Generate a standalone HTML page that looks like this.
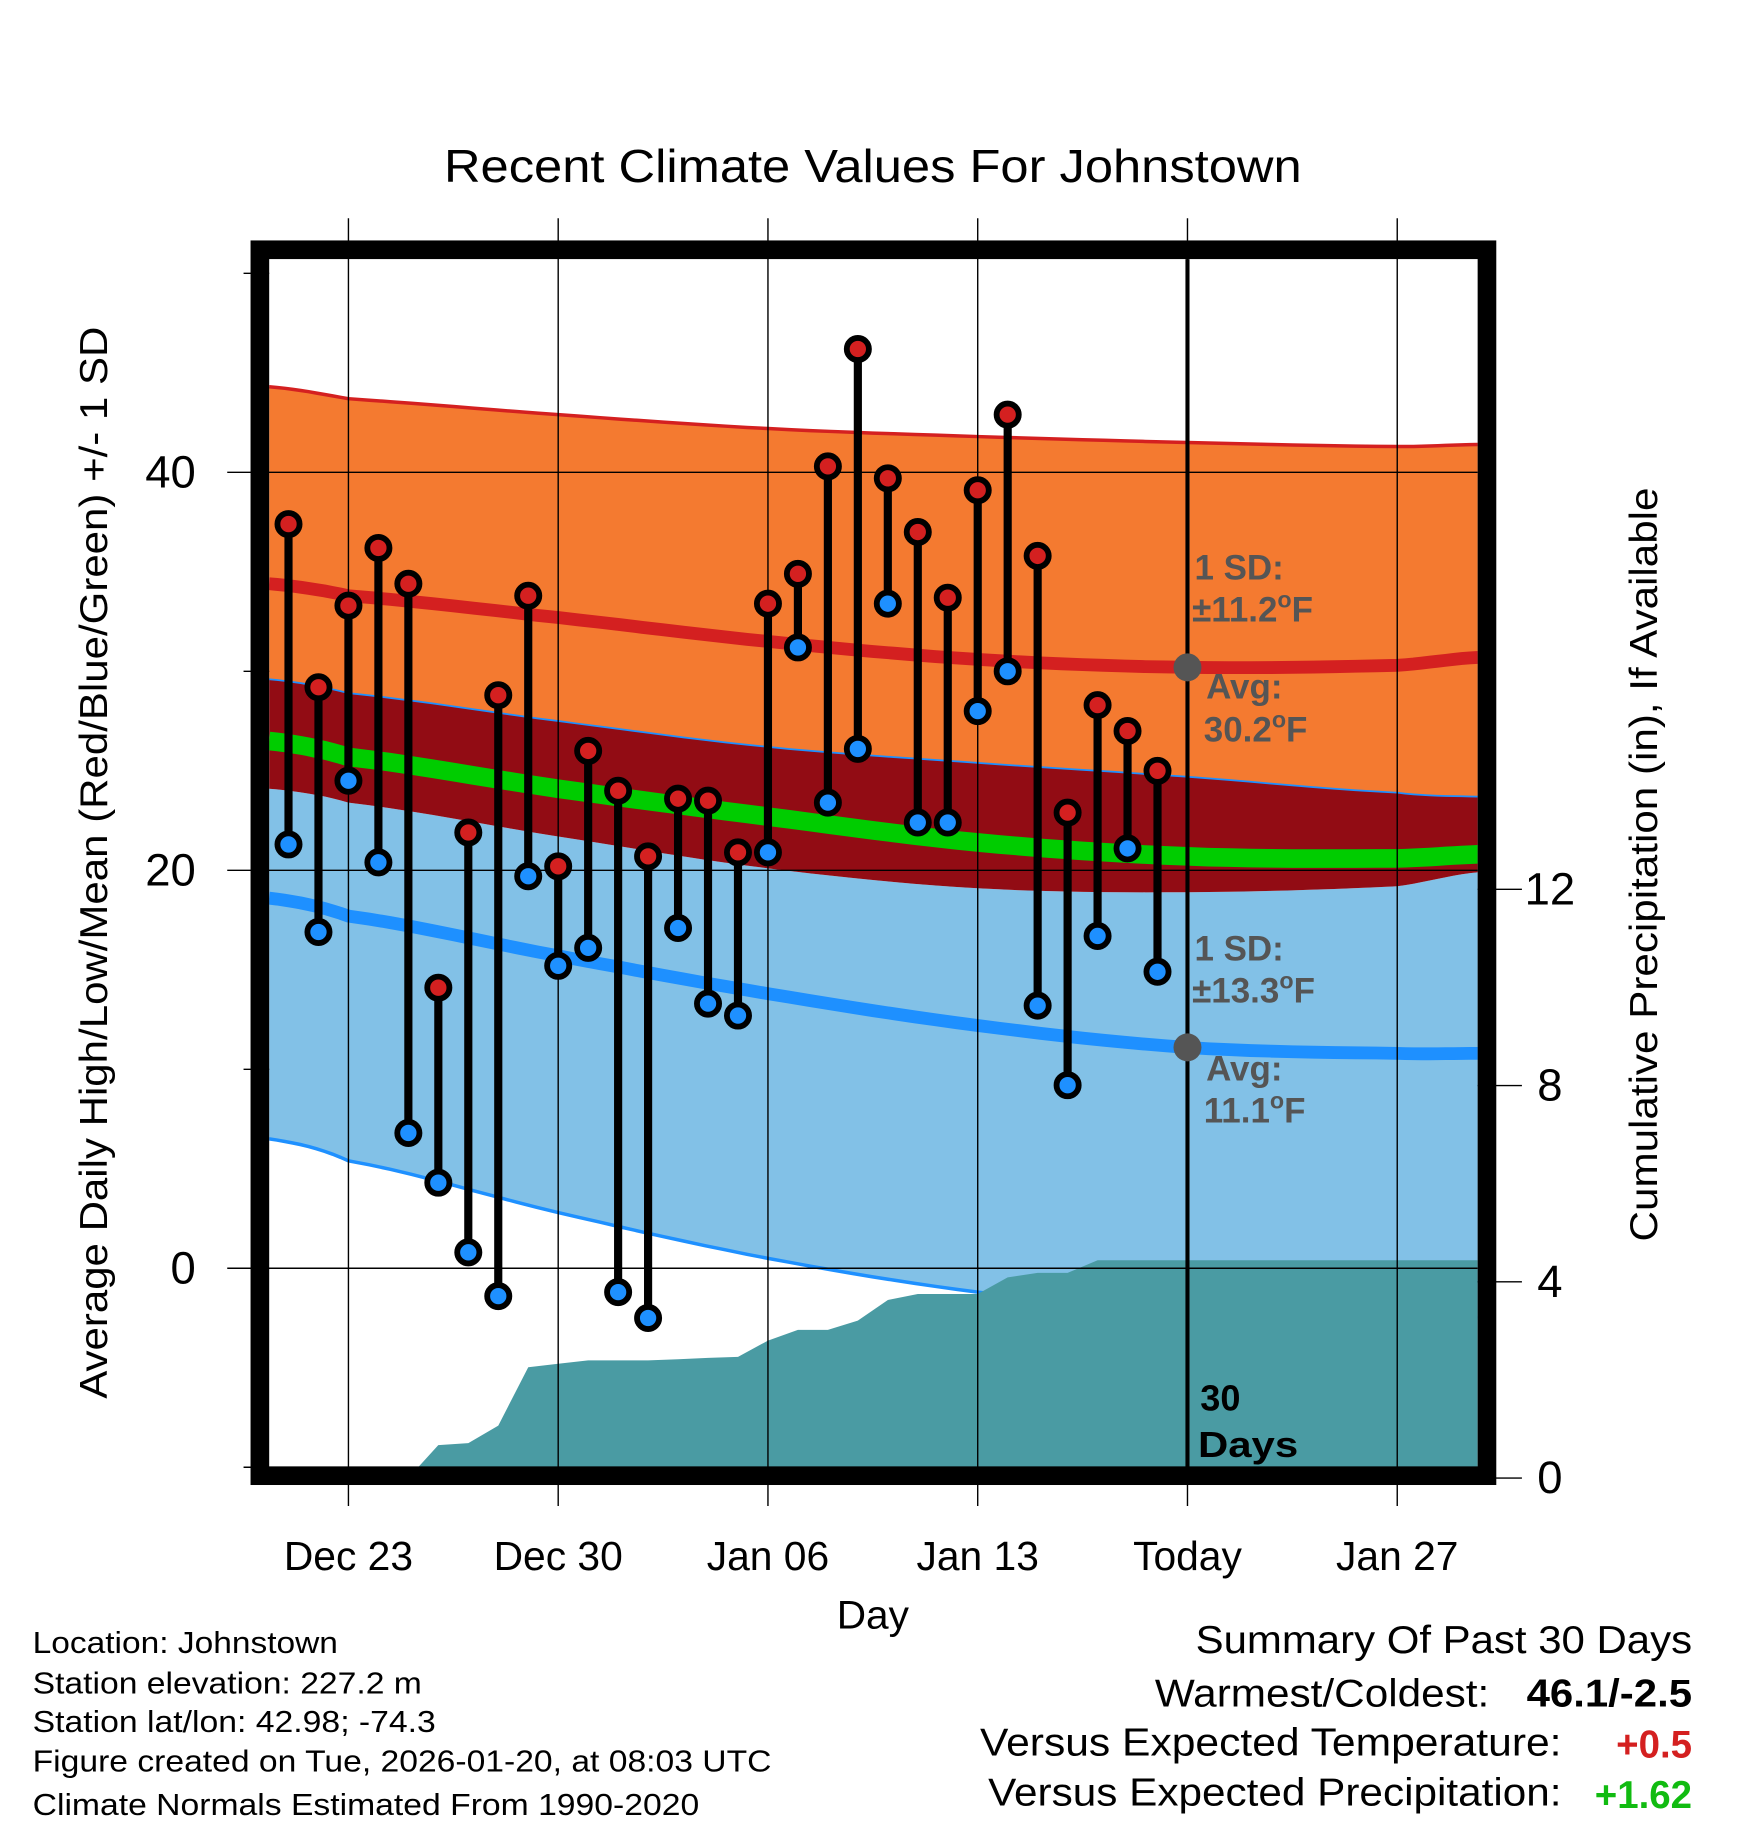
<!DOCTYPE html>
<html><head><meta charset="utf-8"><style>
html,body{margin:0;padding:0;background:#fff}
svg{display:block;font-family:"Liberation Sans",sans-serif}
</style></head><body>
<svg id="chart" width="1748" height="1828" viewBox="0 0 1500 1568" xmlns="http://www.w3.org/2000/svg">
<defs><clipPath id="plotclip"><rect x="231" y="222" width="1037" height="1037"/></clipPath></defs>
<g id="bands" clip-path="url(#plotclip)"></g>
<g id="grid"></g>
<g id="marks"></g>
<rect x="223" y="214" width="1053" height="1052" fill="none" stroke="#000" stroke-width="16"/>
<text x="381" y="156" font-size="40" textLength="736" lengthAdjust="spacingAndGlyphs">Recent Climate Values For Johnstown</text>
<text transform="translate(92,1200) rotate(-90)" font-size="33" textLength="920" lengthAdjust="spacingAndGlyphs">Average Daily High/Low/Mean (Red/Blue/Green) +/- 1 SD</text>
<text transform="translate(1422,1065) rotate(-90)" font-size="33" textLength="647" lengthAdjust="spacingAndGlyphs">Cumulative Precipitation (in), If Available</text>
<text x="718" y="1397" font-size="34" textLength="62" lengthAdjust="spacingAndGlyphs">Day</text>
<g font-size="30" font-weight="bold" fill="#555">
<text x="1025" y="497">1 SD:</text>
<text x="1023" y="533">±11.2<tspan font-size="20" dy="-12">o</tspan><tspan dy="12">F</tspan></text>
<text x="1035" y="599">Avg:</text>
<text x="1033" y="636">30.2<tspan font-size="20" dy="-12">o</tspan><tspan dy="12">F</tspan></text>
<text x="1025" y="824">1 SD:</text>
<text x="1023" y="860">±13.3<tspan font-size="20" dy="-12">o</tspan><tspan dy="12">F</tspan></text>
<text x="1035" y="927">Avg:</text>
<text x="1033" y="963">11.1<tspan font-size="20" dy="-12">o</tspan><tspan dy="12">F</tspan></text>
</g>
<text x="1030" y="1210" font-size="31" font-weight="bold">30</text>
<text x="1028" y="1250" font-size="31" font-weight="bold" textLength="86" lengthAdjust="spacingAndGlyphs">Days</text>
<g font-size="26.5">
<text x="28" y="1418" textLength="262" lengthAdjust="spacingAndGlyphs">Location: Johnstown</text>
<text x="28" y="1453" textLength="334" lengthAdjust="spacingAndGlyphs">Station elevation: 227.2 m</text>
<text x="28" y="1486" textLength="346" lengthAdjust="spacingAndGlyphs">Station lat/lon: 42.98; -74.3</text>
<text x="28" y="1520" textLength="634" lengthAdjust="spacingAndGlyphs">Figure created on Tue, 2026-01-20, at 08:03 UTC</text>
<text x="28" y="1557" textLength="572" lengthAdjust="spacingAndGlyphs">Climate Normals Estimated From 1990-2020</text>
</g>
<g font-size="33">
<text x="1026" y="1418" textLength="426" lengthAdjust="spacingAndGlyphs">Summary Of Past 30 Days</text>
<text x="991" y="1464" textLength="287" lengthAdjust="spacingAndGlyphs">Warmest/Coldest:</text>
<text x="1310" y="1464" font-weight="bold" textLength="142" lengthAdjust="spacingAndGlyphs">46.1/-2.5</text>
<text x="841" y="1506" textLength="499" lengthAdjust="spacingAndGlyphs">Versus Expected Temperature:</text>
<text x="1452" y="1508" text-anchor="end" font-weight="bold" fill="#d42020">+0.5</text>
<text x="848" y="1549" textLength="492" lengthAdjust="spacingAndGlyphs">Versus Expected Precipitation:</text>
<text x="1452" y="1551" text-anchor="end" font-weight="bold" fill="#11bb11">+1.62</text>
</g>
</svg>
<script>
// ---- data ----
const obsDays = [-2,-1,0,1,2,3,4,5,6,7,8,9,10,11,12,13,14,15,16,17,18,19,20,21,22,23,24,25,26,27];
const highs = [37.4,29.2,33.3,36.2,34.4,14.1,21.9,28.8,33.8,20.2,26.0,24.0,20.7,23.6,23.5,20.9,33.4,34.9,40.3,46.2,39.7,37.0,33.7,39.1,42.9,35.8,22.9,28.3,27.0,25.0];
const lows = [21.3,16.9,24.5,20.4,6.8,4.3,0.8,-1.4,19.7,15.2,16.1,-1.2,-2.5,17.1,13.3,12.7,20.9,31.2,23.4,26.1,33.4,22.4,22.4,28.0,30.0,13.2,9.2,16.7,21.1,14.9];
const precipCum = [0,0,0,0,0,0.67,0.71,1.07,2.26,2.33,2.40,2.40,2.40,2.42,2.45,2.47,2.80,3.02,3.02,3.21,3.63,3.75,3.75,3.75,4.09,4.18,4.18,4.44,4.44,4.44];
const normDays = [-2.65,0,7,14,21,28,35,37.7];
const highUpper = [44.3,43.7,42.9,42.2,41.8,41.5,41.3,41.4];
const highAvg = [34.4,33.8,32.7,31.5,30.6,30.2,30.3,30.7];
const highLower = [29.6,28.9,27.5,26.2,25.4,24.7,23.9,23.7];
const meanAvg = [26.5,25.7,24.1,22.7,21.4,20.7,20.6,20.8];
const lowUpper = [24.1,23.4,21.7,20.1,19.1,18.9,19.2,19.9];
const lowAvg = [18.6,17.7,15.7,13.8,12.2,11.1,10.8,10.8];
const lowLower = [6.5,5.4,2.8,0.5,-1.2,-2.2,-2.5,-2.5];
const xTickDays = [0,7,14,21,28,35];
const xTickLabels = ["Dec 23","Dec 30","Jan 06","Jan 13","Today","Jan 27"];
const yTicks = [0,20,40];
const yMinor = [-10,10,30,50];
const pTicks = [0,4,8,12];
const todayDay = 28;
const todayHighAvg = 30.2, todayLowAvg = 11.1;

// ---- axes ----
const X = d => 299 + d*180/7;
const Y = v => 1088 - v*17.075;
const P = p => 1268 - p*42.1;
const NS = "http://www.w3.org/2000/svg";
function mk(tag, attrs, parent){const e=document.createElementNS(NS,tag);for(const k in attrs)e.setAttribute(k,attrs[k]);parent.appendChild(e);return e;}
// smooth curve sampling via Catmull-Rom in day space
function smooth(days, vals){
  const out=[];
  for(let i=0;i<days.length-1;i++){
    const p0=vals[Math.max(i-1,0)],p1=vals[i],p2=vals[i+1],p3=vals[Math.min(i+2,vals.length-1)];
    for(let k=0;k<10;k++){
      const t=k/10;
      const v=0.5*((2*p1)+(-p0+p2)*t+(2*p0-5*p1+4*p2-p3)*t*t+(-p0+3*p1-3*p2+p3)*t*t*t);
      const d=days[i]+(days[i+1]-days[i])*t;
      out.push([X(d),Y(v)]);
    }
  }
  out.push([X(days[days.length-1]),Y(vals[vals.length-1])]);
  return out;
}
function pts(a){return a.map(p=>p[0].toFixed(1)+","+p[1].toFixed(1));}
function curve(days, vals){return pts(smooth(days,vals));}
function band(days, top, bot){return curve(days,top).concat(curve(days,bot).reverse()).join(" ");}
const bands=document.getElementById("bands"), grid=document.getElementById("grid"), marks=document.getElementById("marks");

let e;
e=mk("polygon",{points:band(normDays,highUpper,highLower),fill:"#f47a30"},bands);


e=mk("polyline",{points:curve(normDays,highUpper).join(" "),fill:"none",stroke:"#d42020","stroke-width":3},bands);


e=mk("polygon",{points:band(normDays,lowUpper,lowLower),fill:"#82c1e7"},bands);


e=mk("polyline",{points:curve(normDays,lowLower).join(" "),fill:"none",stroke:"#1e90ff","stroke-width":3},bands);


e=mk("polygon",{points:band(normDays,highLower,lowUpper),fill:"#920c14"},bands);


e=mk("polyline",{points:curve(normDays,highLower).join(" "),fill:"none",stroke:"#1e90ff","stroke-width":1.5},bands);


e=mk("polyline",{points:curve(normDays,meanAvg).join(" "),fill:"none",stroke:"#00cc00","stroke-width":16},bands);


e=mk("polyline",{points:curve(normDays,highAvg).join(" "),fill:"none",stroke:"#d42020","stroke-width":11},bands);


e=mk("polyline",{points:curve(normDays,lowAvg).join(" "),fill:"none",stroke:"#1e90ff","stroke-width":11},bands);


// precip area
let pp=[X(obsDays[0])+","+P(0)];
obsDays.forEach((d,i)=>pp.push(X(d).toFixed(1)+","+P(precipCum[i]).toFixed(1)));
pp.push("1268,"+P(precipCum[precipCum.length-1]).toFixed(1));
pp.push("1268,"+P(0));
e=mk("polygon",{points:pp.join(" "),fill:"#4a9ba3"},bands);



// grid
xTickDays.forEach((d,i)=>{
  e=mk("line",{x1:X(d),x2:X(d),y1:187,y2:1292,stroke:"#000","stroke-width":1.2},grid);
  
  
  e=mk("text",{x:X(d),y:1347,"font-size":35,"text-anchor":"middle"},grid);
  e.textContent=xTickLabels[i];
  
  
});
yTicks.forEach(v=>{
  e=mk("line",{x1:195,x2:1268,y1:Y(v),y2:Y(v),stroke:"#000","stroke-width":1.2},grid);
  
  
  e=mk("text",{x:168,y:Y(v)+13,"font-size":39,"text-anchor":"end"},grid);
  e.textContent=String(v);
  
  
});
yMinor.forEach(v=>{
  e=mk("line",{x1:209,x2:231,y1:Y(v),y2:Y(v),stroke:"#000","stroke-width":1.2},grid);
  
  
});
pTicks.forEach(p=>{
  e=mk("line",{x1:1268,x2:1306,y1:P(p),y2:P(p),stroke:"#000","stroke-width":1.2},grid);
  
  
  e=mk("text",{x:1330,y:P(p)+13,"font-size":39,"text-anchor":"middle"},grid);
  e.textContent=String(p);
  
  
});
e=mk("line",{x1:X(todayDay),x2:X(todayDay),y1:222,y2:1259,stroke:"#000","stroke-width":3.5},grid);



// marks
obsDays.forEach((d,i)=>{
  e=mk("line",{x1:X(d),x2:X(d),y1:Y(highs[i]),y2:Y(lows[i]),stroke:"#000","stroke-width":7},marks);
  
  
});
obsDays.forEach((d,i)=>{
  e=mk("circle",{cx:X(d),cy:Y(highs[i]),r:9.5,fill:"#d42020",stroke:"#000","stroke-width":5},marks);
  
  
  e=mk("circle",{cx:X(d),cy:Y(lows[i]),r:9.5,fill:"#1e90ff",stroke:"#000","stroke-width":5},marks);
  
  
});
e=mk("circle",{cx:X(todayDay),cy:Y(todayHighAvg),r:12,fill:"#555"},marks);


e=mk("circle",{cx:X(todayDay),cy:Y(todayLowAvg),r:12,fill:"#555"},marks);


</script>
</body></html>
